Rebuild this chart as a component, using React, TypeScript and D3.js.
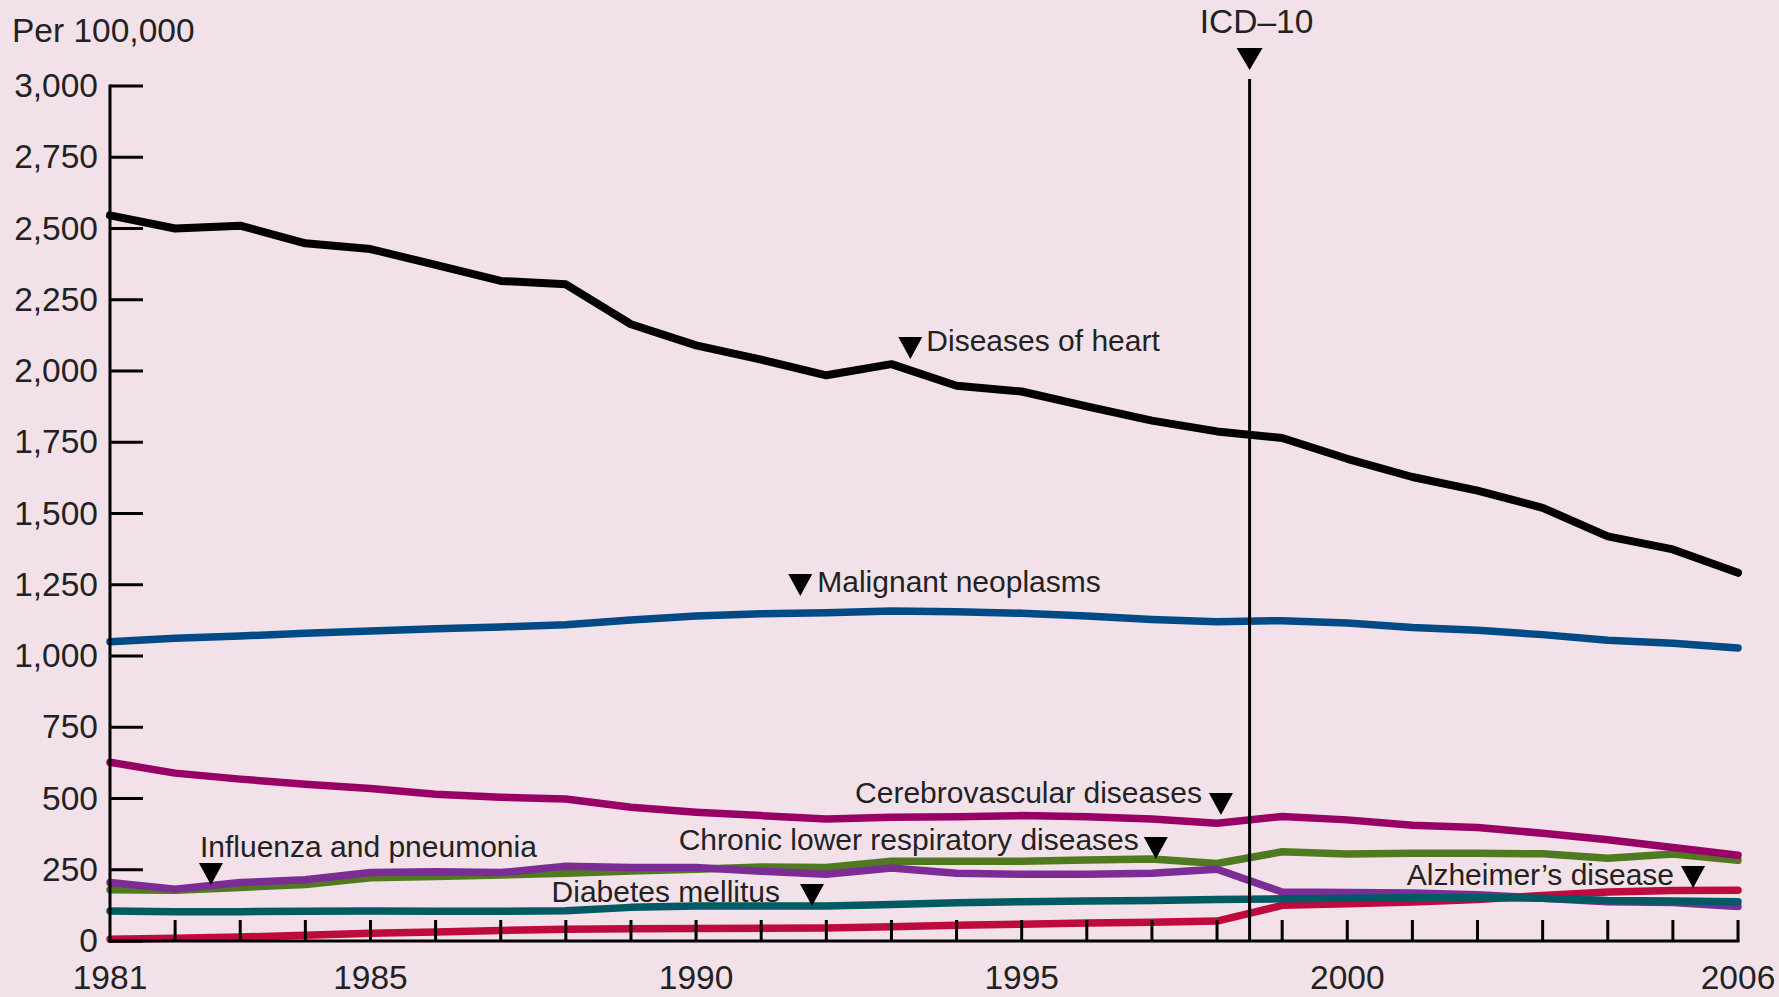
import React from "react";
import * as d3 from "d3";

const years = d3.range(1981, 2007);

const heart = [2546, 2500, 2510, 2448, 2428, 2372, 2316, 2304, 2164, 2090, 2040, 1985, 2024, 1948, 1928, 1876, 1826, 1788, 1765, 1692, 1628, 1580, 1520, 1420, 1374, 1292];
const cancer = [1050, 1062, 1070, 1080, 1088, 1096, 1102, 1110, 1126, 1140, 1148, 1152, 1158, 1155, 1150, 1140, 1128, 1120, 1124, 1116, 1100, 1090, 1075, 1055, 1045, 1028];
const stroke = [627, 589, 568, 550, 535, 515, 504, 498, 469, 452, 440, 428, 434, 436, 440, 436, 428, 413, 437, 425, 406, 398, 378, 355, 328, 301];
const copd = [180, 178, 188, 198, 222, 226, 232, 238, 246, 252, 260, 258, 280, 280, 280, 284, 288, 272, 313, 305, 308, 308, 306, 290, 305, 283];
const flu = [205, 182, 205, 215, 240, 243, 240, 262, 258, 258, 245, 234, 256, 238, 234, 234, 238, 252, 172, 170, 168, 162, 150, 138, 135, 121];
const diabetes = [105, 103, 103, 104, 105, 104, 104, 106, 118, 123, 123, 123, 128, 134, 138, 140, 142, 146, 148, 150, 152, 152, 150, 142, 140, 138];
const alzheimer = [6, 10, 14, 20, 27, 32, 37, 41, 43, 44, 45, 46, 50, 55, 59, 63, 66, 70, 125, 131, 137, 146, 160, 172, 177, 178];

const yTicks = d3.range(0, 3001, 250);
const xLabelYears = [1981, 1985, 1990, 1995, 2000, 2006];
const icdYear = 1998.5;

// draw order bottom -> top
const seriesList = [
  { name: "Chronic lower respiratory diseases", values: copd, color: "#4F7A1F" },
  { name: "Influenza and pneumonia", values: flu, color: "#7B2D95" },
  { name: "Alzheimer's disease", values: alzheimer, color: "#BE0A3C" },
  { name: "Diabetes mellitus", values: diabetes, color: "#005A64" },
  { name: "Cerebrovascular diseases", values: stroke, color: "#990066" },
  { name: "Malignant neoplasms", values: cancer, color: "#004A86" },
  { name: "Diseases of heart", values: heart, color: "#000000" },
];

const annotationLabels = [
  "Diseases of heart",
  "Malignant neoplasms",
  "Cerebrovascular diseases",
  "Chronic lower respiratory diseases",
  "Influenza and pneumonia",
  "Diabetes mellitus",
  "Alzheimer\u2019s disease",
];

// layout: triangle anchor in data coordinates (year, value), text offsets in px
const annotationLayout = [
  { year: 1993.29, value: 2119, dx: 16, dy: 14, anchor: "start" },
  { year: 1991.6, value: 1288, dx: 17, dy: 18, anchor: "start" },
  { year: 1998.06, value: 519, dx: -19, dy: 10, anchor: "end" },
  { year: 1997.06, value: 365, dx: -17, dy: 13, anchor: "end" },
  { year: 1982.55, value: 274, dx: -11, dy: -6, anchor: "start" },
  { year: 1991.78, value: 200, dx: -32, dy: 18, anchor: "end" },
  { year: 2005.31, value: 263, dx: -19, dy: 19, anchor: "end" },
];

const W = 1779;
const H = 997;
const FONT = "'Liberation Sans', Arial, Helvetica, sans-serif";

export default function App() {
  const x = d3.scaleLinear().domain([1981, 2006]).range([110, 1738]);
  const y = d3.scaleLinear().domain([0, 3000]).range([941, 86]);

  const line = d3
    .line<number>()
    .x((_, i) => x(years[i]))
    .y((d) => y(d))
    .curve(d3.curveLinear);

  const tri = (cx: number, top: number, w: number, h: number) =>
    `M${cx - w / 2},${top}L${cx + w / 2},${top}L${cx},${top + h}Z`;

  const icdX = x(icdYear);

  return (
    <svg
      width={W}
      height={H}
      style={{ position: "absolute", left: 0, top: 0, display: "block" }}
      fontFamily={FONT}
    >
      <rect x={0} y={0} width={W} height={H} fill="#F2E1E9" />

      {/* series */}
      {seriesList.map((s) => (
        <path
          key={s.name}
          d={line(s.values) || ""}
          fill="none"
          stroke={s.color}
          strokeWidth={s.color === "#000000" ? 8 : 7.5}
          strokeLinejoin="round"
          strokeLinecap="round"
        />
      ))}

      {/* y axis */}
      <line x1={x(1981)} x2={x(1981)} y1={y(0) + 1.5} y2={y(3000) - 1.5} stroke="#000" strokeWidth={3} />
      {yTicks.map((t) => (
        <g key={t}>
          <line x1={x(1981)} x2={x(1981) + 33} y1={y(t)} y2={y(t)} stroke="#000" strokeWidth={3} />
          <text x={98} y={y(t) + 11} textAnchor="end" fontSize={33.5} fill="#222">
            {d3.format(",")(t)}
          </text>
        </g>
      ))}
      <text x={12} y={42} fontSize={33.5} fill="#222">
        Per 100,000
      </text>

      {/* x axis */}
      <line x1={x(1981) - 1.5} x2={x(2006) + 1.5} y1={y(0)} y2={y(0)} stroke="#000" strokeWidth={3} />
      {years.slice(1).map((yr) => (
        <line key={yr} x1={x(yr)} x2={x(yr)} y1={y(0)} y2={y(0) - 21} stroke="#000" strokeWidth={3} />
      ))}
      {xLabelYears.map((yr) => (
        <text key={yr} x={x(yr)} y={989} textAnchor="middle" fontSize={33.5} fill="#222">
          {yr}
        </text>
      ))}

      {/* ICD-10 marker */}
      <line x1={icdX} x2={icdX} y1={79} y2={y(0)} stroke="#000" strokeWidth={3} />
      <path d={tri(icdX, 48, 26, 22)} fill="#000" />
      <text x={icdX + 7} y={33} textAnchor="middle" fontSize={33.5} fill="#222">
        ICD–10
      </text>

      {/* annotations */}
      {annotationLabels.map((label, i) => {
        const a = annotationLayout[i];
        const cx = x(a.year);
        const top = y(a.value);
        return (
          <g key={label}>
            <path d={tri(cx, top, 24, 22)} fill="#000" />
            <text
              x={cx + a.dx}
              y={top + a.dy}
              textAnchor={a.anchor as any}
              fontSize={30}
              fill="#222"
            >
              {label}
            </text>
          </g>
        );
      })}
    </svg>
  );
}
